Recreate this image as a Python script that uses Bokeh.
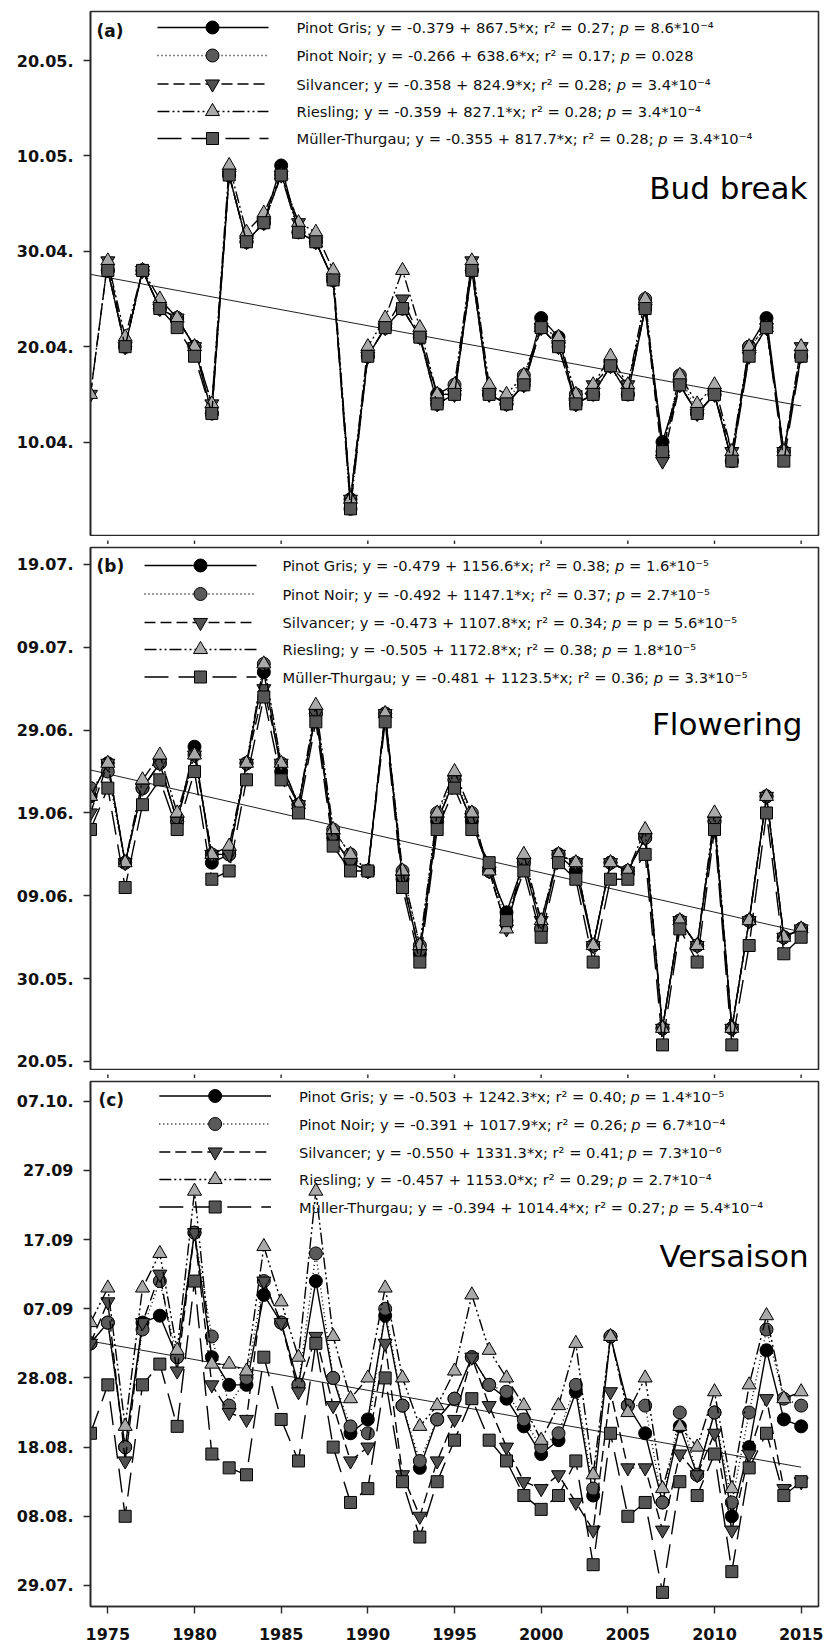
import glob
import numpy as np
from bokeh.plotting import figure
from bokeh.layouts import column
from bokeh.models import Range1d, FixedTicker, Label
from bokeh.embed import file_html
from bokeh.resources import INLINE

nan = float("nan")
years = list(range(1974, 2016))
x_ticks = [1975, 1980, 1985, 1990, 1995, 2000, 2005, 2010, 2015]

# ---------------- (a) Bud break, day of year ----------------
a_ticks = [100, 110, 120, 130, 140]
a_tick_labels = ["10.04.", "20.04.", "30.04.", "10.05.", "20.05."]
a_pg = [nan,118,110,118,114,113,110,103,128,121,123,129,122,121,117,94,109,112,114,111,105,105,118,105,104,106,113,111,104,105,108,105,114,100,106,103,105,98,110,113,99,109]
a_pn = [nan,118,110,118,114,113,110,103,128,121,123,128,122,121,117,93,109,112,114,111,104,106,118,105,104,107,112,110,105,105,108,105,115,99,107,103,105,98,110,112,99,109]
a_s  = [105,119,110,118,114,113,110,104,128,121,123,128,123,121,117,94,109,112,115,111,104,105,119,105,104,106,112,110,104,106,108,106,114,98,106,103,105,99,109,112,99,110]
a_r  = [105,119,111,118,115,113,110,104,129,122,124,128,123,122,118,94,110,113,118,112,105,106,119,106,105,107,112,111,105,106,109,106,115,99,107,104,106,99,110,112,99,110]
a_mt = [nan,118,110,118,114,112,109,103,128,121,123,128,122,121,117,93,109,112,114,111,104,105,118,105,104,106,112,110,104,105,108,105,114,99,106,103,105,98,109,112,98,109]
a_legend = [
    ["Pinot Gris; y = -0.379 + 867.5*x; r\u00b2 = 0.27; ", "= 8.6*10\u207b\u2074"],
    ["Pinot Noir; y = -0.266 + 638.6*x; r\u00b2 = 0.17; ", "= 0.028"],
    ["Silvancer; y = -0.358 + 824.9*x; r\u00b2 = 0.28; ", "= 3.4*10\u207b\u2074"],
    ["Riesling; y = -0.359 + 827.1*x; r\u00b2 = 0.28; ", "= 3.4*10\u207b\u2074"],
    ["M\u00fcller-Thurgau; y = -0.355 + 817.7*x; r\u00b2 = 0.28; ", "= 3.4*10\u207b\u2074"],
]

# ---------------- (b) Flowering ----------------
b_ticks = [140, 150, 160, 170, 180, 190, 200]
b_tick_labels = ["20.05.", "30.05.", "09.06.", "19.06.", "29.06.", "09.07.", "19.07."]
b_pg = [172,176,164,173,176,169,178,164,165,176,187,175,171,182,167,164,163,182,162,153,169,174,169,163,158,164,156,165,163,154,164,163,167,144,157,154,169,144,157,172,155,156]
b_pn = [173,175,164,173,176,169,177,165,165,176,188,176,171,182,168,165,163,182,163,154,170,174,170,163,157,164,156,165,164,154,164,163,167,144,157,154,169,144,157,172,155,156]
b_s  = [170,176,164,173,176,169,177,165,165,176,185,176,171,182,167,164,163,182,162,153,169,174,169,163,156,164,157,165,164,154,164,163,167,144,157,154,169,144,157,172,155,156]
b_r  = [172,176,164,174,177,170,177,165,166,176,188,176,171,183,168,165,163,182,163,154,170,175,170,163,156,165,157,165,164,154,164,163,168,144,157,154,170,144,157,172,155,156]
b_mt = [168,173,161,171,174,168,175,162,163,174,184,174,170,181,166,163,163,181,161,152,168,173,168,164,157,163,155,164,162,152,162,162,165,142,156,152,168,142,154,170,153,155]
b_legend = [
    ["Pinot Gris; y = -0.479 + 1156.6*x; r\u00b2 = 0.38; ", "= 1.6*10\u207b\u2075"],
    ["Pinot Noir; y = -0.492 + 1147.1*x; r\u00b2 = 0.37; ", "= 2.7*10\u207b\u2075"],
    ["Silvancer; y = -0.473 + 1107.8*x; r\u00b2 = 0.34; ", "= p = 5.6*10\u207b\u2075"],
    ["Riesling; y = -0.505 + 1172.8*x; r\u00b2 = 0.38; ", "= 1.8*10\u207b\u2075"],
    ["M\u00fcller-Thurgau; y = -0.481 + 1123.5*x; r\u00b2 = 0.36; ", "= 3.3*10\u207b\u2075"],
]

# ---------------- (c) Versaison ----------------
c_ticks = [210, 220, 230, 240, 250, 260, 270, 280]
c_tick_labels = ["29.07.", "08.08.", "18.08.", "28.08.", "07.09", "17.09", "27.09", "07.10."]
c_pg = [245,248,230,248,249,243,261,243,239,239,252,248,239,254,240,232,234,249,236,227,234,237,243,239,237,233,229,231,238,223,246,236,232,222,233,226,235,220,230,244,234,233]
c_pn = [245,248,230,247,254,243,261,246,236,240,254,248,239,258,240,233,232,250,236,228,234,237,243,239,238,234,230,232,239,224,246,236,236,222,235,226,235,222,235,247,237,236]
c_s  = [245,251,228,248,255,241,261,239,235,234,254,248,238,246,236,228,230,245,226,220,228,234,243,236,230,225,224,226,222,218,238,227,227,218,229,226,232,218,229,237,224,225]
c_r  = [248,253,233,253,258,244,267,242,242,241,259,251,243,267,246,237,240,253,240,233,236,241,252,244,240,236,231,236,245,226,246,235,240,224,233,230,238,224,239,249,237,238]
c_mt = [232,239,220,239,242,233,254,229,227,226,243,234,228,245,230,222,224,240,225,217,225,231,237,231,228,223,221,223,228,213,232,220,222,209,225,223,229,212,227,232,223,225]
c_legend = [
    ["Pinot Gris; y = -0.503 + 1242.3*x; r\u00b2 = 0.40; ", "= 1.4*10\u207b\u2075"],
    ["Pinot Noir; y = -0.391 + 1017.9*x; r\u00b2 = 0.26; ", "= 6.7*10\u207b\u2074"],
    ["Silvancer; y = -0.550 + 1331.3*x; r\u00b2 = 0.41; ", "= 7.3*10\u207b\u2076"],
    ["Riesling; y = -0.457 + 1153.0*x; r\u00b2 = 0.29; ", "= 2.7*10\u207b\u2074"],
    ["M\u00fcller-Thurgau; y = -0.394 + 1014.4*x; r\u00b2 = 0.27; ", "= 5.4*10\u207b\u2074"],
]

# ---------------- styling ----------------
FONT = "DejaVu Sans"
LEG_SIZE = 14.7
# (dash, marker, fill, size) for Pinot Gris, Pinot Noir, Silvaner, Riesling, Mueller-Thurgau
STYLES = [
    ("solid", "circle", "#000000", 13),
    ("1 3", "circle", "#5a5a5a", 13),
    ("11 5", "inverted_triangle", "#505050", 14),
    ("12 3 2 3 2 3", "triangle", "#a9a9a9", 14),
    ("24 10", "square", "#555555", 12),
]

_font_cache = {}


def _font_path(name):
    for root in ("/usr/share/fonts", "/usr/local/share/fonts"):
        hits = glob.glob(root + "/**/" + name, recursive=True)
        if hits:
            return hits[0]
    return None


def text_width(text, size, style="normal"):
    fname = {"normal": "DejaVuSans.ttf", "italic": "DejaVuSans-Oblique.ttf",
             "bold": "DejaVuSans-Bold.ttf"}[style]
    try:
        from PIL import ImageFont
        key = (fname, size)
        if key not in _font_cache:
            path = _font_path(fname)
            _font_cache[key] = ImageFont.truetype(path, size) if path else None
        f = _font_cache[key]
        if f is not None:
            return f.getlength(text)
    except Exception:
        pass
    return len(text) * size * 0.58


W = 829
INK = "#2a2a2a"


def make_panel(height, b_left, b_top, b_bottom, xr, yr, yticks, ylabels, xlabels):
    p = figure(width=W, height=height, x_range=Range1d(*xr), y_range=Range1d(*yr),
               output_backend="svg", toolbar_location=None,
               min_border_left=b_left, min_border_right=11,
               min_border_top=b_top, min_border_bottom=b_bottom)
    p.grid.visible = False
    p.background_fill_color = "white"
    p.border_fill_color = "white"
    p.outline_line_color = INK
    p.outline_line_width = 1.6
    p.axis.axis_line_color = INK
    p.axis.axis_line_width = 1.6
    p.axis.major_tick_line_color = INK
    p.axis.major_tick_line_width = 1.4
    p.axis.major_tick_out = 7
    p.axis.major_tick_in = 0
    p.axis.minor_tick_line_color = None
    p.yaxis.ticker = FixedTicker(ticks=yticks)
    p.yaxis.major_label_overrides = {t: l for t, l in zip(yticks, ylabels)}
    p.yaxis.major_label_text_font = FONT
    p.yaxis.major_label_text_font_style = "bold"
    p.yaxis.major_label_text_font_size = "16px"
    p.yaxis.major_label_text_color = "#111111"
    p.yaxis.major_label_standoff = 10
    if xlabels:
        p.xaxis.ticker = FixedTicker(ticks=x_ticks)
        p.xaxis.major_label_text_font = FONT
        p.xaxis.major_label_text_font_style = "bold"
        p.xaxis.major_label_text_font_size = "16px"
        p.xaxis.major_label_text_color = "#111111"
        p.xaxis.major_label_standoff = 14
    else:
        p.xaxis.visible = False
    return p


def tick_strip(x_range, height):
    """Short x ticks hanging below a panel that has no labelled x axis."""
    s = figure(width=W, height=height, x_range=x_range, y_range=Range1d(0, 1),
               output_backend="svg", toolbar_location=None,
               min_border_left=90, min_border_right=11, min_border_top=0, min_border_bottom=0)
    s.axis.visible = False
    s.grid.visible = False
    s.outline_line_color = None
    s.background_fill_color = "white"
    s.border_fill_color = "white"
    s.segment(x0=x_ticks, x1=x_ticks, y0=[1.2] * len(x_ticks), y1=[1 - 7.0 / height] * len(x_ticks),
              line_color=INK, line_width=1.4)
    return s


def draw_panel(p, frame, series, legend, letter, title, rows, leg_x, title_xy, letter_xy):
    fl, ft, fw, fh = frame  # frame in page pixels
    x0, x1 = p.x_range.start, p.x_range.end
    y0, y1 = p.y_range.start, p.y_range.end

    def xd(px):
        return x0 + (px - fl) / fw * (x1 - x0)

    def yd(py):
        return y1 - (py - ft) / fh * (y1 - y0)

    # trend line fitted to all series
    xs_all, ys_all = [], []
    for s in series:
        for yr_, v in zip(years, s):
            if not np.isnan(v):
                xs_all.append(yr_)
                ys_all.append(v)
    k, b = np.polyfit(xs_all, ys_all, 1)
    p.line([years[0], years[-1]], [k * years[0] + b, k * years[-1] + b],
           line_color="#222222", line_width=1.0)

    for s, (dash, marker, fill, size) in zip(series, STYLES):
        p.line(years, s, line_color="black", line_width=1.4, line_dash=dash)
        p.scatter(years, s, marker=marker, size=size, fill_color=fill,
                  line_color="black", line_width=1.0)

    # legend (drawn by hand so that "p" can be italic)
    lx0, lm, lx1, tx = leg_x
    w_p = text_width("p", LEG_SIZE, "italic")
    w_sp = text_width(" ", LEG_SIZE)
    for (dash, marker, fill, size), (pre, post), ry in zip(STYLES, legend, rows):
        p.line([xd(lx0), xd(lx1)], [yd(ry), yd(ry)], line_color="black",
               line_width=1.4, line_dash=dash)
        p.scatter([xd(lm)], [yd(ry)], marker=marker, size=size, fill_color=fill,
                  line_color="black", line_width=1.0)
        w1 = text_width(pre, LEG_SIZE)
        for txt, off, st in ((pre.rstrip(), 0, "normal"), ("p", w1, "italic"),
                             (post, w1 + w_p + w_sp, "normal")):
            p.add_layout(Label(x=xd(tx + off), y=yd(ry), text=txt, text_font=FONT,
                               text_font_size="%spx" % LEG_SIZE, text_font_style=st,
                               text_color="#111111", text_baseline="middle",
                               text_align="left"))
    p.add_layout(Label(x=xd(letter_xy[0]), y=yd(letter_xy[1]), text=letter,
                       text_font=FONT, text_font_size="17px", text_font_style="bold",
                       text_color="#111111", text_baseline="middle", text_align="left"))
    p.add_layout(Label(x=xd(title_xy[0]), y=yd(title_xy[1]), text=title,
                       text_font=FONT, text_font_size="31px", text_color="#000000",
                       text_baseline="alphabetic", text_align="right"))


XR = (1974.0, 2016.0)

# panel (a): page rows 0..536, frame 90..818 x 11..535
pa = make_panel(536, 90, 11, 1, XR, (90.2, 145.15), a_ticks, a_tick_labels, False)
draw_panel(pa, (90, 11, 728, 524), [a_pg, a_pn, a_s, a_r, a_mt], a_legend, "(a)", "Bud break",
           [27, 55, 83.5, 111, 138], (157, 212, 268, 296), (807, 187), (96, 30))
sa = tick_strip(pa.x_range, 8)

# panel (b): page rows 544..1070, frame 547..1069
pb = make_panel(526, 90, 3, 1, XR, (139.03, 202.05), b_ticks, b_tick_labels, False)
draw_panel(pb, (90, 547, 728, 522), [b_pg, b_pn, b_s, b_r, b_mt], b_legend, "(b)", "Flowering",
           [565, 593.5, 622, 649, 676.5], (144, 200, 256, 282), (802, 723), (96, 565))
sb = tick_strip(pb.x_range, 8)

# panel (c): page rows 1078..1648, frame 88..818 x 1081..1606
pc = make_panel(570, 88, 3, 42, XR, (206.96, 282.85), c_ticks, c_tick_labels, True)
draw_panel(pc, (88, 1081, 730, 525), [c_pg, c_pn, c_s, c_r, c_mt], c_legend, "(c)", "Versaison",
           [1095.5, 1123.5, 1151.5, 1179, 1206.5], (157, 213, 269, 297), (808, 1255), (96, 1099))

layout = column(pa, sa, pb, sb, pc, spacing=0)
open("out.html", "w").write(file_html(layout, INLINE))
